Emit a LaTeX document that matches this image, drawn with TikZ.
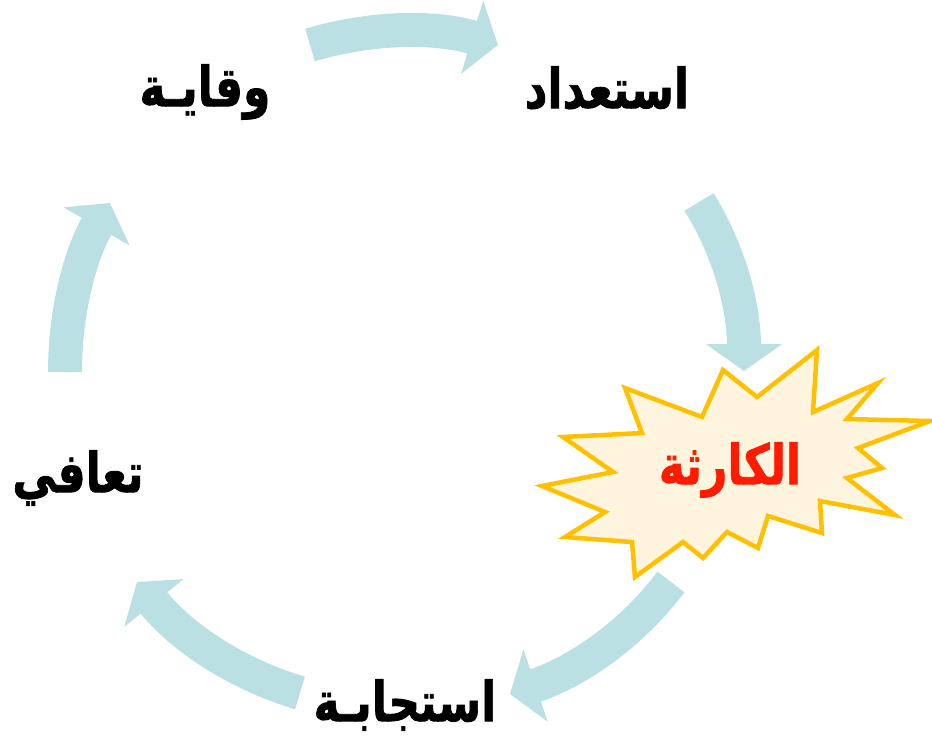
\documentclass[tikz,border=0pt]{standalone}
\usepackage{fontspec}
\newfontfamily\arabicfont[Script=Arabic, FakeBold=1.5]{DejaVu Sans}
\TeXXeTstate=1
\usetikzlibrary{arrows.meta, calc}

\definecolor{cycblue}{RGB}{186,224,228}
\definecolor{burstgold}{RGB}{255,192,0}
\definecolor{burstfill}{RGB}{255,245,222}
\definecolor{disred}{RGB}{255,26,0}

\begin{document}
\begin{tikzpicture}[
    x=1pt, y=-1pt,
    phase/.style={font=\arabicfont\bfseries\fontsize{44}{48}\selectfont, inner sep=0pt, yscale=1.25, transform shape},
    flow/.style={draw=cycblue, line width=34pt, -{Triangle[length=27pt, width=75pt]}},
    burst/.style={draw=burstgold, fill=burstfill, line width=4.5pt, line join=miter},
]

\useasboundingbox (0,0) rectangle (932,747);

% arrow ends and bend points
\coordinate (a1s) at (310,45);  \coordinate (a1e) at (498,45);  \coordinate (q1) at (405,17);
\coordinate (a2s) at (699,202); \coordinate (a2e) at (744,371); \coordinate (q2) at (744,274);
\coordinate (a3s) at (671,582); \coordinate (a3e) at (510,694); \coordinate (q3) at (612,660);
\coordinate (a4s) at (300,693); \coordinate (a4e) at (137,582); \coordinate (q4) at (203,664);
\coordinate (a5s) at (65,372);  \coordinate (a5e) at (110,203); \coordinate (q5) at (65,281);

\foreach \i in {1,...,5}
  \draw[flow] (a\i s) .. controls ($(a\i s)!2/3!(q\i)$) and ($(a\i e)!2/3!(q\i)$) .. (a\i e);

% starburst
\draw[burst] (817,350) -- (813,412) -- (878,383) -- (847,419) -- (930,421)
  -- (858,448) -- (882,468) -- (847,478) -- (895,515) -- (820,501)
  -- (822,533) -- (768,516) -- (758,548) -- (727,532) -- (703,558)
  -- (683,542) -- (635,577) -- (632,542) -- (565,537) -- (605,512)
  -- (542,486) -- (613,472) -- (563,437) -- (642,433) -- (625,388)
  -- (702,417) -- (723,370) -- (757,397) -- cycle;

\node[phase] (wiqaya) at (205,92) {\beginR وقايـة\endR};
\node[phase] (istidad) at (607,88) {\beginR استعداد\endR};
\node[phase, text=disred] (karitha) at (730,470) {\beginR الكارثة\endR};
\node[phase] (istijaba) at (405,705) {\beginR استجابـة\endR};
\node[phase] (taafi) at (78,478) {\beginR تعافي\endR};

\end{tikzpicture}
\end{document}
